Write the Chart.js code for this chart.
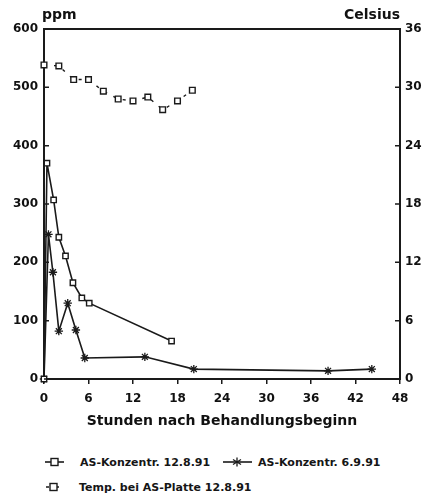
<!DOCTYPE html>
<html>
<head>
<meta charset="utf-8">
<script src="https://cdn.jsdelivr.net/npm/chart.js@4.4.0/dist/chart.umd.min.js"></script>
<style>
  html, body { margin: 0; padding: 0; background: #fff; }
  #wrap { position: relative; width: 423px; height: 496px; overflow: hidden; }
  #chart { position: absolute; left: 0; top: 0; }
  .leg { position: absolute; height: 14px; display: flex; align-items: center; white-space: nowrap;
         font: bold 11px "DejaVu Sans", sans-serif; color: #161616; }
  .leg svg { display: block; }
</style>
</head>
<body>
<div id="wrap">
  <canvas id="chart" width="423" height="440"></canvas>

  <div class="leg" style="left:45px; top:455px;">
    <svg width="19" height="14" style="margin-right:16px"><line x1="0" y1="7" x2="19" y2="7" stroke="#1a1a1a" stroke-width="1.6"/><rect x="6" y="3.5" width="7" height="7" fill="#fff" stroke="#1a1a1a" stroke-width="1.4"/></svg>
    <span>AS-Konzentr. 12.8.91</span>
  </div>
  <div class="leg" style="left:223px; top:455px;">
    <svg width="29" height="14" style="margin-right:6px"><line x1="0" y1="7" x2="29" y2="7" stroke="#1a1a1a" stroke-width="1.6"/><g stroke="#1a1a1a" stroke-width="1.3"><line x1="14" y1="2.5" x2="14" y2="11.5"/><line x1="10" y1="4.5" x2="18" y2="9.5"/><line x1="10" y1="9.5" x2="18" y2="4.5"/></g></svg>
    <span>AS-Konzentr. 6.9.91</span>
  </div>
  <div class="leg" style="left:46px; top:480px;">
    <svg width="15" height="14" style="margin-right:18px"><line x1="0" y1="7" x2="15" y2="7" stroke="#1a1a1a" stroke-width="1.4" stroke-dasharray="3,7"/><rect x="4" y="3.5" width="7" height="7" fill="#fff" stroke="#1a1a1a" stroke-width="1.4"/></svg>
    <span>Temp. bei AS-Platte 12.8.91</span>
  </div>
</div>

<script>
// AS-Konzentration 12.8.91 (ppm)
var hours1 = [0, 0.4, 1.3, 2.0, 2.9, 3.9, 5.1, 6.1, 17.2];
var ppm1 = [0, 370, 307, 243, 211, 165, 139, 130, 65];

// AS-Konzentration 6.9.91 (ppm)
var hours2 = [0, 0.6, 1.2, 2.0, 3.2, 4.3, 5.5, 13.6, 20.2, 38.3, 44.2];
var ppm2 = [0, 248, 183, 82, 130, 84, 36, 38, 17, 14, 17];

// Temperatur bei AS-Platte 12.8.91 (Celsius)
var hoursT = [0, 2, 4, 6, 8, 10, 12, 14, 16, 18, 20];
var tempT = [32.3, 32.2, 30.8, 30.8, 29.6, 28.8, 28.6, 29.0, 27.7, 28.6, 29.7];

var xTicks = [0, 6, 12, 18, 24, 30, 36, 42, 48];
var ppmTicks = [0, 100, 200, 300, 400, 500, 600];
var celsiusTicks = [0, 6, 12, 18, 24, 30, 36];

var ink = '#1a1a1a';
var tickFont = { family: '"DejaVu Sans", sans-serif', size: 12, weight: 'bold' };

function points(xs, ys) {
  return xs.map(function(x, i) { return { x: x, y: ys[i] }; });
}

// Rahmen oben, nach innen zeigende Striche und die Einheiten ppm / Celsius
var frame = {
  id: 'frame',
  afterDraw: function(chart) {
    var ctx = chart.ctx, a = chart.chartArea;
    var yL = chart.scales.y, yR = chart.scales.y1;
    ctx.save();
    ctx.strokeStyle = ink;
    ctx.lineWidth = 2;
    ctx.beginPath();
    ctx.moveTo(a.left - 1, a.top);
    ctx.lineTo(a.right + 1, a.top);
    ctx.stroke();

    ctx.lineWidth = 1.5;
    ctx.beginPath();
    ppmTicks.forEach(function(v) {
      var p = yL.getPixelForValue(v);
      ctx.moveTo(a.left, p); ctx.lineTo(a.left + 5, p);
    });
    celsiusTicks.forEach(function(v) {
      var p = yR.getPixelForValue(v);
      ctx.moveTo(a.right - 5, p); ctx.lineTo(a.right, p);
    });
    ctx.stroke();

    ctx.fillStyle = '#111';
    ctx.font = 'bold 14px "DejaVu Sans", sans-serif';
    ctx.textBaseline = 'alphabetic';
    ctx.textAlign = 'left';
    ctx.fillText('ppm', a.left - 2, 19);
    ctx.textAlign = 'right';
    ctx.fillText('Celsius', a.right, 19);
    ctx.restore();
  }
};

new Chart(document.getElementById('chart'), {
  type: 'line',
  data: {
    datasets: [
      {
        label: 'AS-Konzentr. 12.8.91',
        data: points(hours1, ppm1),
        yAxisID: 'y',
        borderColor: ink,
        borderWidth: 1.6,
        pointStyle: 'rect',
        pointRadius: 3.8,
        pointBackgroundColor: '#fff',
        pointBorderColor: ink,
        pointBorderWidth: 1.4,
        tension: 0,
        clip: false
      },
      {
        label: 'AS-Konzentr. 6.9.91',
        data: points(hours2, ppm2),
        yAxisID: 'y',
        borderColor: ink,
        borderWidth: 1.6,
        pointStyle: 'star',
        pointRadius: 4.2,
        pointBorderColor: ink,
        pointBorderWidth: 1.3,
        tension: 0,
        clip: false
      },
      {
        label: 'Temp. bei AS-Platte 12.8.91',
        data: points(hoursT, tempT),
        yAxisID: 'y1',
        borderColor: ink,
        borderWidth: 1.4,
        borderDash: [3, 7],
        pointStyle: 'rect',
        pointRadius: 4,
        pointBackgroundColor: '#fff',
        pointBorderColor: ink,
        pointBorderWidth: 1.4,
        tension: 0,
        clip: false
      }
    ]
  },
  options: {
    responsive: false,
    animation: false,
    layout: { padding: { top: 29, left: 0, right: 0, bottom: 0 } },
    plugins: {
      legend: { display: false },
      tooltip: { enabled: false }
    },
    scales: {
      x: {
        type: 'linear',
        min: 0,
        max: 48,
        afterBuildTicks: function(s) { s.ticks = xTicks.map(function(v) { return { value: v }; }); },
        afterFit: function(s) { s.height = 61; },
        ticks: { font: tickFont, color: '#111', padding: 8, maxRotation: 0 },
        grid: { drawOnChartArea: false, drawTicks: true, tickLength: 5, color: ink, lineWidth: 1.5 },
        border: { display: true, color: ink, width: 2 },
        title: {
          display: true,
          text: 'Stunden nach Behandlungsbeginn',
          color: '#111',
          font: { family: '"DejaVu Sans", sans-serif', size: 14, weight: 'bold' },
          padding: { top: 0, bottom: 10 }
        }
      },
      y: {
        type: 'linear',
        position: 'left',
        min: 0,
        max: 600,
        afterBuildTicks: function(s) { s.ticks = ppmTicks.map(function(v) { return { value: v }; }); },
        afterFit: function(s) { s.width = 44; },
        ticks: { font: tickFont, color: '#111', padding: 6 },
        grid: { display: false, drawTicks: false },
        border: { display: true, color: ink, width: 2 }
      },
      y1: {
        type: 'linear',
        position: 'right',
        min: 0,
        max: 36,
        afterBuildTicks: function(s) { s.ticks = celsiusTicks.map(function(v) { return { value: v }; }); },
        afterFit: function(s) { s.width = 23; },
        ticks: { font: tickFont, color: '#111', padding: 5 },
        grid: { display: false, drawTicks: false },
        border: { display: true, color: ink, width: 2 }
      }
    }
  },
  plugins: [frame]
});
</script>
</body>
</html>
